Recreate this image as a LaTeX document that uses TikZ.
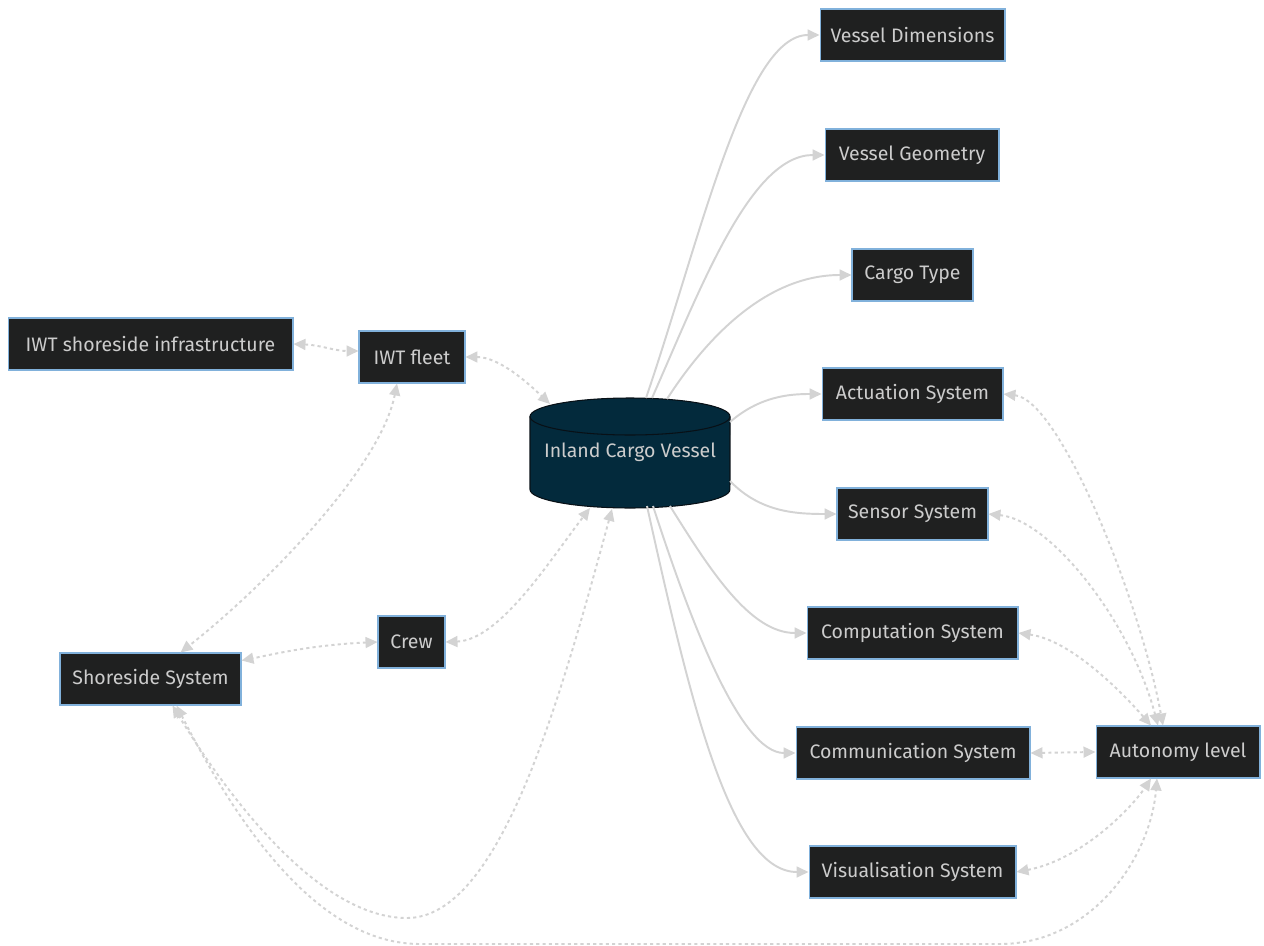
\documentclass[tikz,border=0pt]{standalone}
\usepackage{fontspec}
\setmainfont{Fira Sans}
\usetikzlibrary{arrows.meta,calc}
\definecolor{boxfill}{RGB}{31,32,32}
\definecolor{boxline}{RGB}{129,177,219}
\definecolor{boxtext}{RGB}{204,204,204}
\definecolor{cylfill}{RGB}{3,42,60}
\definecolor{cylline}{RGB}{8,16,22}
\definecolor{edge}{RGB}{211,211,211}
\newcommand{\labelfont}{\fontsize{11.1pt}{12pt}\selectfont}
\tikzset{
  box/.style={rectangle, fill=boxfill, draw=boxline, line width=0.6pt,
    text=boxtext, minimum height=1.04cm, inner sep=0pt, font=\labelfont},
  link/.style={draw=edge, line width=1.1pt,
    -{Triangle[length=6.8pt,width=6.2pt]}},
  both/.style={draw=edge, line width=1.1pt, dash pattern=on 1.8pt off 1.8pt,
    {Triangle[length=6.8pt,width=6.2pt]}-{Triangle[length=6.8pt,width=6.2pt]}},
}
\begin{document}
\begin{tikzpicture}[x=0.02cm,y=-0.02cm]
\useasboundingbox[fill=white] (0,0) rectangle (1264,946);

% central vessel drawn as a cylinder
\fill[cylfill, draw=cylline, line width=0.6pt]
  (530,416.5) -- (530,489.5) arc[start angle=180, end angle=360, x radius=2cm, y radius=0.37cm]
  -- (730,416.5) arc[start angle=0, end angle=180, x radius=2cm, y radius=0.37cm] -- cycle;
\draw[cylline, line width=0.6pt] (530,416.5) arc[start angle=180, end angle=360, x radius=2cm, y radius=0.37cm];
\node[text=boxtext, font=\labelfont, minimum width=4cm, minimum height=2.2cm] (icv) at (630,452) {Inland Cargo Vessel};

% vessel properties
\node[box, minimum width=3.70cm] (vd) at (912.5,35) {Vessel Dimensions};
\node[box, minimum width=3.48cm] (vg) at (912,155) {Vessel Geometry};
\node[box, minimum width=2.42cm] (ct) at (912.5,275) {Cargo Type};
\node[box, minimum width=3.62cm] (as) at (912.5,394) {Actuation System};
\node[box, minimum width=3.02cm] (ss) at (912.5,514) {Sensor System};
\node[box, minimum width=4.22cm] (cs) at (912.5,633) {Computation System};
\node[box, minimum width=4.68cm] (com) at (913,753) {Communication System};
\node[box, minimum width=4.14cm] (vis) at (912.5,872) {Visualisation System};
\node[box, minimum width=3.28cm] (al) at (1178,752) {Autonomy level};

% shore side
\node[box, minimum width=5.70cm] (isi) at (150.5,344) {IWT shoreside infrastructure};
\node[box, minimum width=2.12cm] (fleet) at (412,357) {IWT fleet};
\node[box, minimum width=1.34cm] (crew) at (411.5,642) {Crew};
\node[box, minimum width=3.62cm] (shore) at (150.5,679) {Shoreside System};

% vessel to its properties
\draw[link] ($(icv.center)+(16,-54)$) .. controls (700,240) and (745,35) .. (vd.west);
\draw[link] ($(icv.center)+(22,-54)$) .. controls (700,290) and (750,155) .. (vg.west);
\draw[link] ($(icv.center)+(37,-53)$) .. controls (705,340) and (765,275) .. (ct.west);
\draw[link] ($(icv.center)+(100,-30)$) .. controls (760,396) and (790,394) .. (as.west);
\draw[link] ($(icv.center)+(100,29)$) .. controls (760,512) and (795,514) .. (ss.west);
\draw[link] ($(icv.center)+(40,54)$) .. controls (710,570) and (750,633) .. (cs.west);
\draw[link] ($(icv.center)+(23,54)$) .. controls (690,620) and (740,753) .. (com.west);
\draw[link] ($(icv.center)+(17,54)$) .. controls (690,700) and (730,872) .. (vis.west);

% two-way relations
\draw[both] (isi.east) .. controls (320,345) and (335,351) .. ($(fleet.west)+(0,-6)$);
\draw[both] (fleet.east) .. controls (500,357) and (530,385) .. ($(icv.center)+(-80,-48)$);
\draw[both] ($(fleet.south)+(-15,0)$) .. controls (380,470) and (260,590) .. ($(shore.north)+(30,0)$);
\draw[both] (crew.west) .. controls (310,645) and (270,655) .. ($(shore.north east)+(0,8)$);
\draw[both] (crew.east) .. controls (500,640) and (550,560) .. ($(icv.center)+(-40,56)$);
\draw[both] ($(shore.south)+(22,0)$) .. controls (230,800) and (320,918) .. (407,918)
  .. controls (500,918) and (560,700) .. ($(icv.center)+(-18,57)$);
\draw[both] ($(shore.south)+(26,0)$) .. controls (240,830) and (320,944) .. (420,944)
  -- (1000,944) .. controls (1090,944) and (1150,860) .. ($(al.south)+(-21,0)$);
\draw[both] (as.east) .. controls (1060,400) and (1140,600) .. ($(al.north)+(-15,0)$);
\draw[both] (ss.east) .. controls (1050,520) and (1130,620) .. ($(al.north)+(-20,0)$);
\draw[both] (cs.east) .. controls (1070,640) and (1120,690) .. ($(al.north)+(-27,0)$);
\draw[both] (com.east) -- (al.west);
\draw[both] (vis.east) .. controls (1080,860) and (1130,810) .. ($(al.south)+(-27,0)$);
\end{tikzpicture}
\end{document}
